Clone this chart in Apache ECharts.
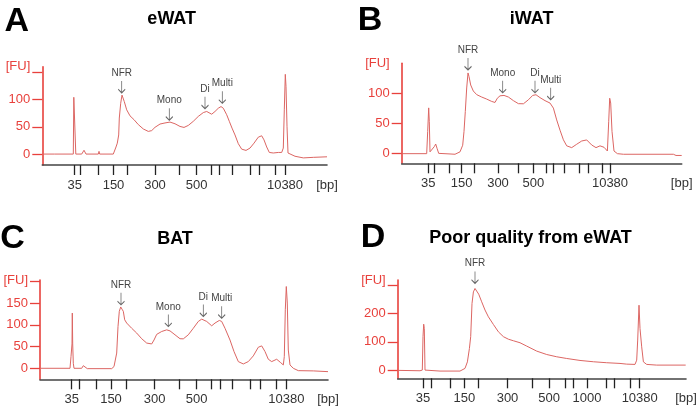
<!DOCTYPE html>
<html><head><meta charset="utf-8">
<script src="https://cdn.jsdelivr.net/npm/echarts@6/dist/echarts.min.js"></script>
<style>html,body{margin:0;padding:0;background:#fff}#c{width:700px;height:420px}</style>
</head><body><div id="c"></div>
<script>
// Ladder bands (bp) and the tick labels shown
const ladderBp = [35,50,100,150,200,300,400,500,600,700,1000,2000,3000,7000,10380];
const labeledBpABC = [35,150,300,500,10380];
const labeledBpD = [35,150,300,500,1000,10380];

// Migration position of each ladder band, per panel (arbitrary time units)
const ladderTimeA = [32.4,38.4,56,71.2,84.9,112.7,137.4,154.4,168.5,177,190,208,216.9,233,242.7];
const ladderTimeB = [26.6,33,47.3,60,72.6,96.3,116.6,131.6,144.2,151.3,162.6,178,186.3,200.3,208.3];
const ladderTimeC = [31.7,39.7,56.7,71,85.8,114.7,139.5,156.7,171.7,180,192.7,210.3,220,236,246.3];
const ladderTimeD = [25.3,33.2,52.3,66.6,80.6,109.8,134.5,151.5,167.3,175.6,189.3,208.3,216.6,232.3,242];

// Electropherogram traces: time and fluorescence (FU)
const timeA = [0,12,12.7,13.4,31,31.5,32.9,33.5,39.4,41.7,43.7,56,56.7,57.4,71,73.7,75,76.4,77,78.4,79.7,80.7,82,84.4,87.7,91.7,96,101,106,109.4,112.7,117.7,122.7,127.7,132.7,137.7,141.7,146,151,156,161,164.4,169.4,172.7,176,178.7,181,184.4,187,189.7,192.7,196,199.4,203.7,207.7,211.7,216,219.4,221.7,224.4,227,231,236,239.4,241,242,243,243.7,244.7,245.7,247.7,252.7,261,271,284.7];
const fuA = [0,0,2,0,0,104,104,0,0,7,0,0,5,0,0,13,20,35,66,93,108,105,96,81,70,63,54,46,41.5,43,49,55,57,58.6,55.5,50.6,48.8,52.5,60,69,76,78,73,78,84,87,84,72,60,47.6,35,19,9,6.7,11,20,31,33.5,26,13,3,2,3,3,11,81,146,124,51,2,-1,-4,-7,-6,-5];

const timeB = [0,25,26,27,27.6,28.3,30,32.6,34,35.3,37,48.3,50,53.3,58.3,61,62.3,63.6,65,66.3,67.3,69,71.6,75,80,85,90,93.3,95.6,98.3,102.3,106.7,111.7,116.7,121.7,126.7,131,134.3,138.3,143.3,148.3,151.7,155,158.3,161.7,165,170,175,180,185,190,194.3,198.3,202.3,205.7,207,208,209,210.3,212.3,215.7,221.7,271.7,274.3,280];
const fuB = [0,0,37,76,53,3,0,11.7,16,9,0.5,-0.5,-1.7,-1,3,14,37,70,109,134,128,114,104,98,94,90.6,86.7,85,92,96,96.7,94,88,83,82.8,89.4,96.7,97.8,93,88,84,75.6,56,39,23,13,10,15.6,21,22.8,14.4,10,13,10.6,4.4,53,92,84,37,4.4,0,-1,-1,-3,-3];

const timeC = [0,30,31,32,32.3,32.7,33.3,34,41.7,43.3,45.3,47.3,71.7,74,75.3,76.7,78,79.3,80.7,82,83.3,84.7,86.7,91.7,96.7,101.7,106.7,111.7,114,116.7,121.7,126.7,130,135,140,143.3,148.3,153.3,158.3,161.7,166.7,171.7,175,179.3,181.7,185,190,194,198.3,203.3,208.3,213.3,218.3,221.7,225,228.3,231.7,236.7,240.7,243.3,244.3,245.3,246.3,247.3,248.3,250,253.3,258.3,273.3,288];
const fuC = [0,0,27,56,127,56,11.5,0,0,6,1.5,-0.8,-0.8,4,19,35,96,131,141,136,131,111.5,104,92,81,68,58,56,65,78,84.6,88.4,86,77,68,67.7,77,92,107.7,113,107.7,97.7,104,110,107.7,92,65,38.5,15.4,10,15.4,28.5,48.4,51.5,38.5,20.8,15.4,20.8,13,7.7,27,134.6,188,150,42,7.7,0,-5.4,-6,-7.7];

const timeD = [0,22.3,24.6,25.3,26,26.6,27.3,29,42.3,62.3,67.3,69.7,71.7,73,74.3,75.7,77.3,79,81,84,87.3,90.7,95.7,100.7,105.7,110.7,115.7,122.3,129,139,149,159,169,182.3,195.7,209,222.3,229,237.3,239,240,241.3,242.3,244,245.7,249,259,272.3,288];
const fuD = [-1,-2.4,0,118,162,147,0,-2.4,-3.5,-3.5,6,29,76,118,235,276,288,282,268,241,212,188,161,135,118,109,103.5,96.5,84.7,67,55,47,41,34,29.4,26,23.5,21,20,35,106,229,147,82,29,20,17.6,17.6,17.6];

// Peak annotations
const annotNamesA = ['NFR','Mono','Di','Multi'];
const annotTimeA = [79.4,127,162.7,180];
const annotFUA = [112,62,83,93];
const annotNamesB = ['NFR','Mono','Di','Multi'];
const annotTimeB = [66.3,101,133.3,149];
const annotFUB = [139,101,101,89.5];
const annotNamesC = ['NFR','Mono','Di','Multi'];
const annotTimeC = [81,128.3,163.3,181.7];
const annotFUC = [146,96,119,115];
const annotNamesD = ['NFR'];
const annotTimeD = [77.3];
const annotFUD = [306];

// Y ticks
const yTicksA = [0,50,100,150], yLabelsA = [0,50,100];
const yTicksB = [0,50,100], yLabelsB = [0,50,100];
const yTicksC = [0,50,100,150,200], yLabelsC = [0,50,100,150];
const yTicksD = [0,100,200,300], yLabelsD = [0,100,200];

const titles = ['eWAT','iWAT','BAT','Poor quality from eWAT'];
const letters = ['A','B','C','D'];

const RED = '#e8413c';
const TRACE = '#dc6663';
const FONT = '"Liberation Sans", Arial, sans-serif';

const panels = [
  {grid:{left:42.3, top:66.7, right:373, bottom:255}, xmax:284.7, ymin:-20, ymax:160,
   ladder:ladderTimeA, labeled:labeledBpABC, yTicks:yTicksA, yLabels:yLabelsA,
   t:timeA, f:fuA, an:annotNamesA, at:annotTimeA, af:annotFUA},
  {grid:{left:401.7, top:63.3, right:18.3, bottom:256.7}, xmax:280, ymin:-16, ymax:150,
   ladder:ladderTimeB, labeled:labeledBpABC, yTicks:yTicksB, yLabels:yLabelsB,
   t:timeB, f:fuB, an:annotNamesB, at:annotTimeB, af:annotFUB},
  {grid:{left:40, top:280, right:372, bottom:40.7}, xmax:288, ymin:-25.3, ymax:203,
   ladder:ladderTimeC, labeled:labeledBpABC, yTicks:yTicksC, yLabels:yLabelsC,
   t:timeC, f:fuC, an:annotNamesC, at:annotTimeC, af:annotFUC},
  {grid:{left:397.7, top:280, right:14, bottom:41.7}, xmax:288.3, ymin:-29, ymax:318,
   ladder:ladderTimeD, labeled:labeledBpD, yTicks:yTicksD, yLabels:yLabelsD,
   t:timeD, f:fuD, an:annotNamesD, at:annotTimeD, af:annotFUD}
];

const grids = [], xAxes = [], yAxes = [], series = [];
panels.forEach((p, i) => {
  grids.push(p.grid);
  const labelVals = p.labeled.map(bp => p.ladder[ladderBp.indexOf(bp)]).concat([p.xmax]);
  xAxes.push({
    type:'value', gridIndex:i, min:0, max:p.xmax,
    axisLine:{show:true, onZero:false, lineStyle:{color:'#444', width:1.6}},
    axisTick:{show:true, customValues:p.ladder, length:10, lineStyle:{color:'#222', width:1.3}},
    axisLabel:{show:true, customValues:labelVals, margin:14, color:'#333', fontSize:13, fontFamily:FONT,
      formatter:(v) => { if (Math.abs(v - p.xmax) < 1e-6) return '[bp]'; const k = p.ladder.indexOf(v); return k >= 0 ? String(ladderBp[k]) : ''; }},
    splitLine:{show:false}
  });
  yAxes.push({
    type:'value', gridIndex:i, min:p.ymin, max:p.ymax,
    axisLine:{show:true, lineStyle:{color:RED, width:1.6}},
    axisTick:{show:true, customValues:p.yTicks, length:10, lineStyle:{color:RED, width:1.3}},
    axisLabel:{show:true, customValues:p.yLabels.concat([p.ymax]), margin:12, color:RED, fontSize:13, fontFamily:FONT,
      formatter:(v) => v === p.ymax ? '[FU]' : String(v)},
    splitLine:{show:false}
  });
  series.push({
    type:'line', xAxisIndex:i, yAxisIndex:i,
    data:p.t.map((x, k) => [x, p.f[k]]),
    showSymbol:false, symbol:'none', smooth:false,
    lineStyle:{color:TRACE, width:1},
    animation:false,
    markPoint:{
      symbol:'path://M5 0 L5 20 M1 14 L5 20 L9 14',
      symbolSize:[7,12], symbolOffset:[0,'-50%'],
      itemStyle:{color:'rgba(0,0,0,0)', borderColor:'#666', borderWidth:1},
      label:{show:true, position:'top', distance:2, formatter:'{b}', color:'#444', fontSize:10, fontFamily:FONT},
      data:p.an.map((n, k) => ({name:n, coord:[p.at[k], p.af[k]]})),
      animation:false
    }
  });
});

const letterPos = [[16.7,22],[370,20.8],[12.5,238.3],[373,237.5]];
const titlePos = [[171.7,18.9],[531.7,19.2],[175,239.2],[530.5,238.3]];
const graphics = [];
letters.forEach((L, i) => graphics.push({type:'text', x:letterPos[i][0], y:letterPos[i][1],
  style:{text:L, font:'bold 34px ' + FONT, fill:'#000', textAlign:'center', textVerticalAlign:'middle'}}));
titles.forEach((T, i) => graphics.push({type:'text', x:titlePos[i][0], y:titlePos[i][1],
  style:{text:T, font:'bold 18px ' + FONT, fill:'#000', textAlign:'center', textVerticalAlign:'middle'}}));

const chart = echarts.init(document.getElementById('c'), null, {renderer:'canvas'});
chart.setOption({
  animation:false,
  backgroundColor:'#fff',
  grid:grids, xAxis:xAxes, yAxis:yAxes, series:series,
  graphic:graphics
});
</script></body></html>
